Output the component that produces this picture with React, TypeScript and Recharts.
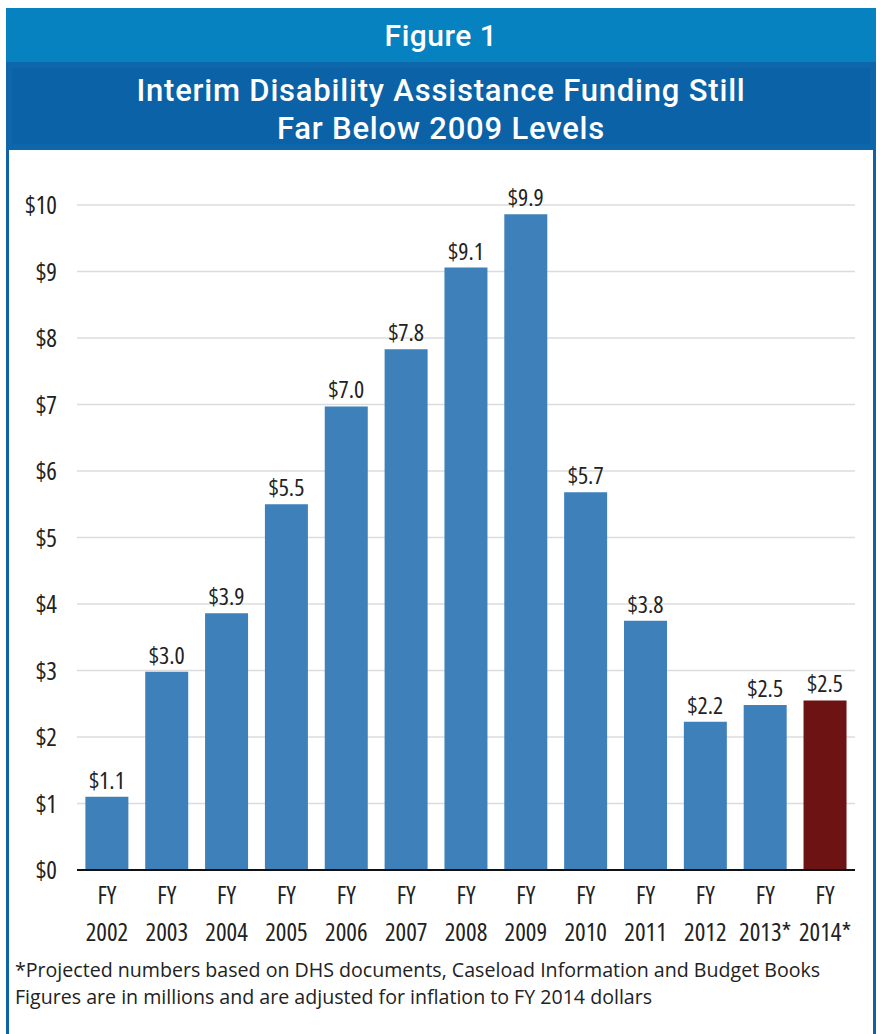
import React from "react";
import { BarChart, Bar, XAxis, YAxis, CartesianGrid, Cell, LabelList } from "recharts";

const years = ["2002", "2003", "2004", "2005", "2006", "2007", "2008", "2009", "2010", "2011", "2012", "2013*", "2014*"];
const funding = [1.1, 2.98, 3.86, 5.5, 6.97, 7.83, 9.06, 9.86, 5.68, 3.75, 2.23, 2.48, 2.55];
const valueLabels = ["$1.1", "$3.0", "$3.9", "$5.5", "$7.0", "$7.8", "$9.1", "$9.9", "$5.7", "$3.8", "$2.2", "$2.5", "$2.5"];
const yTicks = [0, 1, 2, 3, 4, 5, 6, 7, 8, 9, 10];

const FONT = "'Open Sans', sans-serif";
const TITLE_FONT = "Roboto, sans-serif";
const STRETCH = "75%";
const BLUE = "#3d80ba";
const RED = "#6e1313";

const data = years.map((y, i) => ({ year: y, value: funding[i], label: valueLabels[i] }));

const XTick = ({ x, y, payload }: any) => (
    <text x={x} y={y} textAnchor="middle" fontFamily={FONT} fontSize={25} fill="#222" style={{ fontStretch: STRETCH }}>
        <tspan x={x} dy={26}>FY</tspan>
        <tspan x={x} dy={37}>{payload.value}</tspan>
    </text>
);

const YTick = ({ x, y, payload }: any) => (
    <text x={x} y={y} dy={9} textAnchor="end" fontFamily={FONT} fontSize={25} fill="#222" style={{ fontStretch: STRETCH }}>
        ${payload.value}
    </text>
);

const ValueLabel = ({ x, y, width, index }: any) => (
    <text x={x + width / 2} y={y - 8} textAnchor="middle" fontFamily={FONT} fontSize={24} fill="#222" style={{ fontStretch: STRETCH }}>
        {valueLabels[index]}
    </text>
);

export default function App() {
    return (
        <div style={{ position: "absolute", left: 0, top: 0, width: 880, height: 1034, background: "#fff", fontFamily: FONT }}>
            {/* frame */}
            <div style={{ position: "absolute", left: 6, top: 8, width: 870, height: 1040, border: "3px solid #0e62a8", borderBottom: "none", boxSizing: "border-box" }} />
            <div style={{ position: "absolute", left: 6, top: 8, width: 870, height: 54, background: "#0682c0", color: "#fff", fontFamily: TITLE_FONT, fontSize: 30, fontWeight: 500, letterSpacing: 0.5, display: "flex", alignItems: "center", justifyContent: "center" }}>
                Figure 1
            </div>
            <div style={{ position: "absolute", left: 6, top: 62, width: 870, height: 88, background: "#0b62a7", boxSizing: "border-box", border: "6px solid #0e66ab" }}>
                <div style={{ color: "#fff", fontFamily: TITLE_FONT, fontSize: 31, fontWeight: 500, letterSpacing: 0.8, lineHeight: "38px", textAlign: "center", marginTop: 4 }}>
                    Interim Disability Assistance Funding Still<br />Far Below 2009 Levels
                </div>
            </div>

            <div style={{ position: "absolute", left: 0, top: 160 }}>
                <BarChart width={880} height={800} data={data} margin={{ top: 45, right: 25, bottom: 10, left: 0 }} barCategoryGap="14%">
                    <CartesianGrid vertical={false} stroke="#dcdcdc" strokeWidth={1.5} />
                    <XAxis dataKey="year" interval={0} tickLine={false} height={80} stroke="#111" strokeWidth={2} tick={<XTick />} />
                    <YAxis domain={[0, 10]} ticks={yTicks} width={77} axisLine={false} tickLine={false} tickMargin={14} tick={<YTick />} />
                    <Bar dataKey="value" isAnimationActive={false}>
                        {data.map((d, i) => (
                            <Cell key={d.year} fill={i === data.length - 1 ? RED : BLUE} />
                        ))}
                        <LabelList dataKey="label" content={<ValueLabel />} />
                    </Bar>
                </BarChart>
            </div>

            <div style={{ position: "absolute", left: 15, top: 956, fontSize: 19.6, lineHeight: "27px", color: "#222", whiteSpace: "nowrap" }}>
                *Projected numbers based on DHS documents, Caseload Information and Budget Books<br />
                Figures are in millions and are adjusted for inflation to FY 2014 dollars
            </div>
        </div>
    );
}
